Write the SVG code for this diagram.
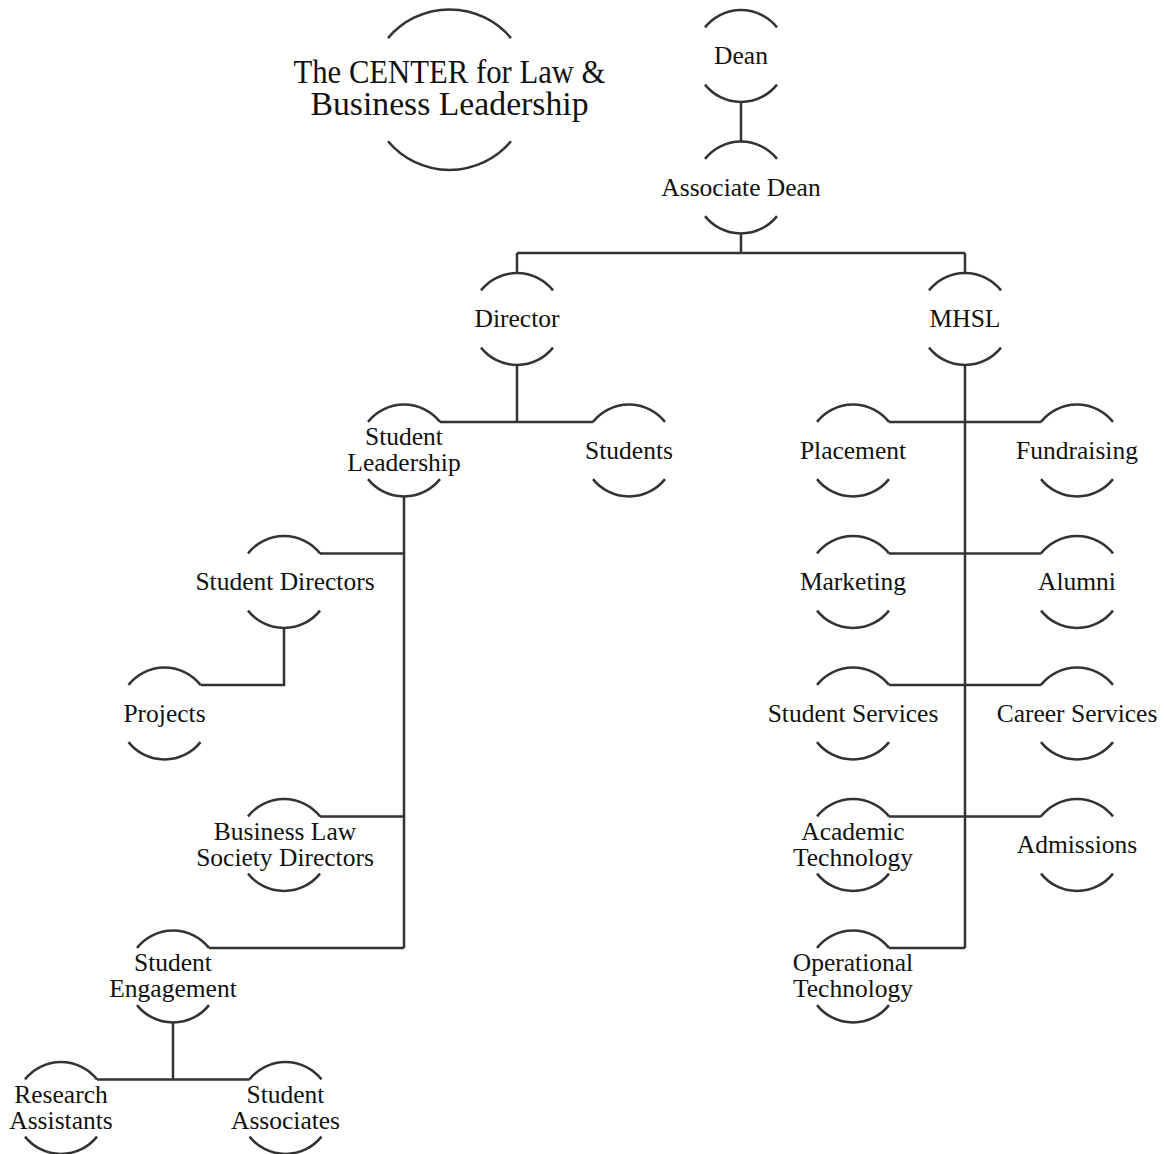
<svg xmlns="http://www.w3.org/2000/svg" xmlns:xlink="http://www.w3.org/1999/xlink" width="1164" height="1154" viewBox="0 0 1164 1154">
<style>
.arc{fill:none;stroke:#333;stroke-width:2.5;stroke-linecap:butt}
.con{fill:none;stroke:#333;stroke-width:2.5}
text{font-family:"Liberation Serif","DejaVu Serif",serif;font-size:25.5px;fill:#111;text-anchor:middle}
.title{font-size:33px}
</style>
<defs>
<g id="ring">
<path class="arc" d="M-36 -28.6 A46 46 0 0 1 36 -28.6"/>
<path class="arc" d="M-36 28.6 A46 46 0 0 0 36 28.6"/>
</g>
</defs>
<rect width="1164" height="1154" fill="#fff"/>
<g id="connectors">
<path class="con" d="M741 102 V141.5"/>
<path class="con" d="M741 233.5 V253 M517 253 H965 M517 253 V273 M965 253 V273"/>
<path class="con" d="M517 365 V421.9 M440 421.9 H593"/>
<path class="con" d="M404 496.5 V947.9"/>
<path class="con" d="M320 553.4 H404 M320 816.4 H404 M209 947.9 H404"/>
<path class="con" d="M284 628 V684.9 H200.5"/>
<path class="con" d="M173 1022.5 V1079.4 M97 1079.4 H249.5"/>
<path class="con" d="M965 365 V947.9"/>
<path class="con" d="M889 421.9 H1041 M889 553.4 H1041 M889 684.9 H1041 M889 816.4 H1041 M889 947.9 H965"/>
</g>
<g id="n-title">
<path class="arc" d="M388 38.1 A80.3 80.3 0 0 1 511 38.1"/>
<path class="arc" d="M388 141.3 A80.3 80.3 0 0 0 511 141.3"/>
<text class="title" x="449.5" y="83.3" textLength="312" lengthAdjust="spacingAndGlyphs">The CENTER for Law &amp;</text>
<text class="title" x="449.5" y="115" textLength="278" lengthAdjust="spacingAndGlyphs">Business Leadership</text>
</g>
<g id="n-dean"><use xlink:href="#ring" x="741" y="56"/><text x="741" y="64">Dean</text></g>
<g id="n-assocdean"><use xlink:href="#ring" x="741" y="187.5"/><text x="741" y="195.5">Associate Dean</text></g>
<g id="n-director"><use xlink:href="#ring" x="517" y="319"/><text x="517" y="327">Director</text></g>
<g id="n-mhsl"><use xlink:href="#ring" x="965" y="319"/><text x="965" y="327">MHSL</text></g>
<g id="n-studentleadership"><use xlink:href="#ring" x="404" y="450.5"/><text x="404" y="445">Student</text><text x="404" y="471">Leadership</text></g>
<g id="n-students"><use xlink:href="#ring" x="629" y="450.5"/><text x="629" y="458.5">Students</text></g>
<g id="n-placement"><use xlink:href="#ring" x="853" y="450.5"/><text x="853" y="458.5">Placement</text></g>
<g id="n-fundraising"><use xlink:href="#ring" x="1077" y="450.5"/><text x="1077" y="458.5">Fundraising</text></g>
<g id="n-studentdirectors"><use xlink:href="#ring" x="284" y="582"/><text x="285" y="590">Student Directors</text></g>
<g id="n-marketing"><use xlink:href="#ring" x="853" y="582"/><text x="853" y="590">Marketing</text></g>
<g id="n-alumni"><use xlink:href="#ring" x="1077" y="582"/><text x="1077" y="590">Alumni</text></g>
<g id="n-projects"><use xlink:href="#ring" x="164.5" y="713.5"/><text x="164.5" y="721.5">Projects</text></g>
<g id="n-studentservices"><use xlink:href="#ring" x="853" y="713.5"/><text x="853" y="721.5">Student Services</text></g>
<g id="n-careerservices"><use xlink:href="#ring" x="1077" y="713.5"/><text x="1077" y="721.5">Career Services</text></g>
<g id="n-bls"><use xlink:href="#ring" x="284" y="845"/><text x="285" y="839.5">Business Law</text><text x="285" y="865.5">Society Directors</text></g>
<g id="n-academictech"><use xlink:href="#ring" x="853" y="845"/><text x="853" y="839.5">Academic</text><text x="853" y="865.5">Technology</text></g>
<g id="n-admissions"><use xlink:href="#ring" x="1077" y="845"/><text x="1077" y="853">Admissions</text></g>
<g id="n-studentengagement"><use xlink:href="#ring" x="173" y="976.5"/><text x="173" y="971">Student</text><text x="173" y="997">Engagement</text></g>
<g id="n-operationaltech"><use xlink:href="#ring" x="853" y="976.5"/><text x="853" y="971">Operational</text><text x="853" y="997">Technology</text></g>
<g id="n-research"><use xlink:href="#ring" x="61" y="1108"/><text x="61" y="1103">Research</text><text x="61" y="1128.5">Assistants</text></g>
<g id="n-studentassociates"><use xlink:href="#ring" x="285.5" y="1108"/><text x="285.5" y="1103">Student</text><text x="285.5" y="1128.5">Associates</text></g>
</svg>
